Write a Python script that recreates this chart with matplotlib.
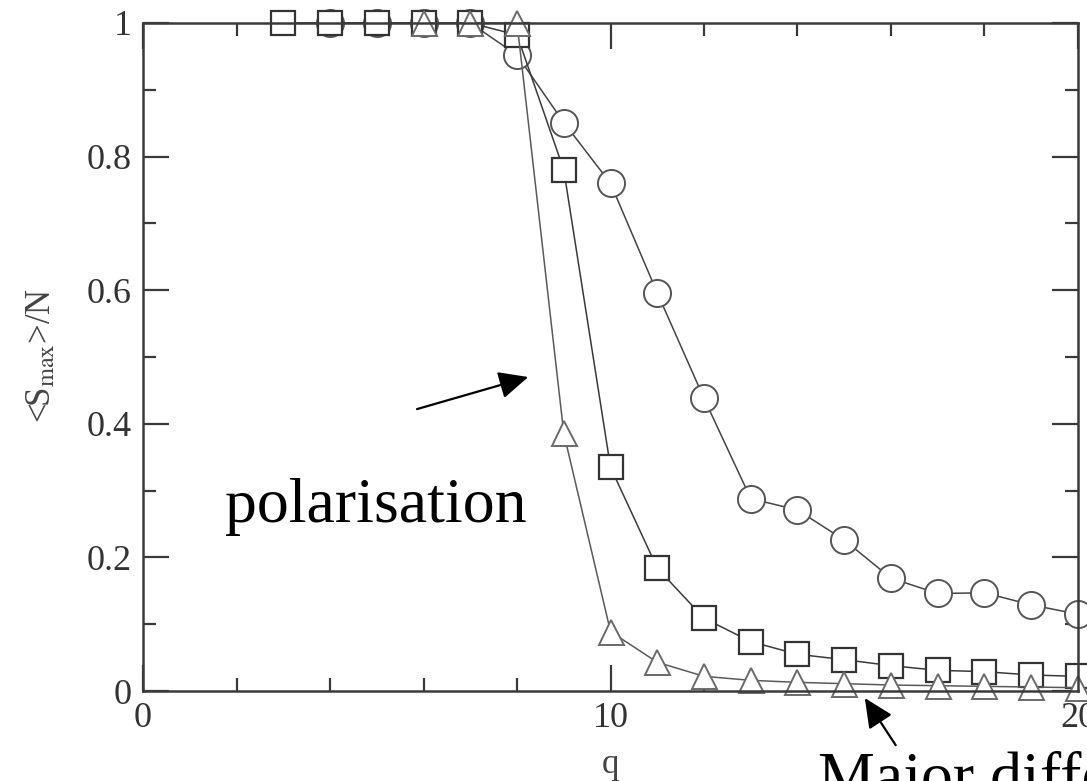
import numpy as np
import matplotlib
matplotlib.use("Agg")
import matplotlib.pyplot as plt
from matplotlib.ticker import MultipleLocator

# data
q_circle = [4, 5, 6, 7, 8, 9, 10, 11, 12, 13, 14, 15, 16, 17, 18, 19, 20]
s_circle = [1.0, 1.0, 1.0, 1.0, 0.952, 0.851, 0.760, 0.596, 0.438, 0.288, 0.271,
            0.226, 0.169, 0.146, 0.147, 0.129, 0.115]

q_square = [3, 4, 5, 6, 7, 8, 9, 10, 11, 12, 13, 14, 15, 16, 17, 18, 19, 20]
s_square = [1.0, 1.0, 1.0, 1.0, 1.0, 0.982, 0.780, 0.335, 0.184, 0.109, 0.074,
            0.055, 0.047, 0.038, 0.031, 0.029, 0.024, 0.022]

q_tri = [6, 7, 8, 9, 10, 11, 12, 13, 14, 15, 16, 17, 18, 19, 20]
s_tri = [1.0, 1.0, 1.0, 0.386, 0.089, 0.043, 0.022, 0.016, 0.013, 0.011, 0.009,
         0.008, 0.007, 0.006, 0.005]

xticks = [0, 10, 20]
xtick_labels = ["0", "10", "20"]
yticks = [0, 0.2, 0.4, 0.6, 0.8, 1.0]
ytick_labels = ["0", "0.2", "0.4", "0.6", "0.8", "1"]

plt.rcParams['font.family'] = ['Liberation Serif', 'DejaVu Serif']
plt.rcParams['mathtext.fontset'] = 'stix'

fig = plt.figure(figsize=(10.87, 7.81), dpi=100)
ax = fig.add_axes([0.1316, 0.1152, 0.8601, 0.8554])

# drawn in this order: circles, squares, triangles on top
ax.plot(q_circle, s_circle, color='#444444', lw=1.1, marker='o', ms=19.5, mfc='white',
        mec='#555555', mew=1.4, clip_on=False)
ax.plot(q_square, s_square, color='#3a3a3a', lw=1.1, marker='s', ms=17, mfc='white',
        mec='#333333', mew=1.6, clip_on=False)
ax.plot(q_tri, s_tri, color='#5a5a5a', lw=1.1, marker='^', ms=18, mfc='white',
        mec='#6a6a6a', mew=1.4, clip_on=False)

ax.set_xlim(0, 20)
ax.set_ylim(0, 1)
ax.set_xticks(xticks, xtick_labels)
ax.set_yticks(yticks, ytick_labels)
ax.xaxis.set_minor_locator(MultipleLocator(2))
ax.yaxis.set_minor_locator(MultipleLocator(0.1))

for s in ax.spines.values():
    s.set_linewidth(1.8)
    s.set_color('#3a3a3a')

ax.tick_params(which='both', direction='in', top=True, right=True,
               color='#3a3a3a', width=1.6, labelsize=26, labelcolor='#333333')
ax.tick_params(which='major', length=19)
ax.tick_params(which='minor', length=9.5)
ax.tick_params(axis='x', which='major', pad=8)
ax.tick_params(axis='y', which='major', pad=8)

# some x ticks look light grey in the original
for tk, loc in zip(ax.xaxis.get_minor_ticks(), ax.xaxis.get_minorticklocs()):
    if round(loc) % 4 == 2:
        tk.tick1line.set_color('#aaaaaa')
        tk.tick2line.set_color('#aaaaaa')
for tk, loc in zip(ax.xaxis.get_major_ticks(), ax.xaxis.get_majorticklocs()):
    if loc == 10:
        tk.tick1line.set_color('#aaaaaa')
        tk.tick2line.set_color('#aaaaaa')

ax.set_xlabel("q", fontsize=25, color='#444444')
ax.set_ylabel(r"<S$_{\rm max}$>/N", fontsize=25, color='#444444')
ax.xaxis.set_label_coords(0.5, -0.085)
ax.yaxis.set_label_coords(-0.091, 0.503)

# annotations
arrow = dict(arrowstyle='-|>,head_length=0.9,head_width=0.42', mutation_scale=20,
             color='black', lw=1.6, shrinkA=0, shrinkB=0)
ax.text(1.754, 0.253, "polarisation", fontsize=46, color='black',
        va='baseline', ha='left', clip_on=False)
ax.annotate("", xy=(8.24, 0.470), xytext=(5.86, 0.422),
            arrowprops=arrow, annotation_clip=False)

ax.text(14.44, -0.157, "Major diffe", fontsize=46, color='black',
        va='baseline', ha='left', clip_on=False)
ax.annotate("", xy=(15.44, -0.0105), xytext=(16.1, -0.081),
            arrowprops=arrow, annotation_clip=False)

fig.savefig("out.png", dpi=100)
